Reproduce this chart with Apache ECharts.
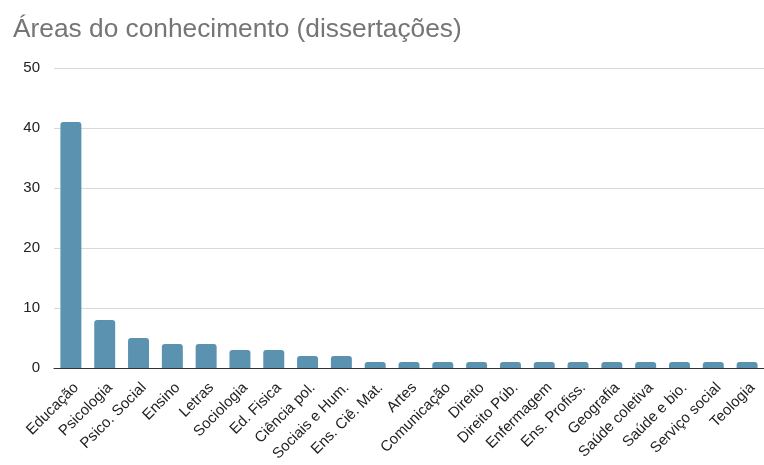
<!DOCTYPE html>
<html>
<head>
<meta charset="utf-8">
<script src="https://cdn.jsdelivr.net/npm/echarts@6/dist/echarts.min.js"></script>
<style>
  html, body { margin: 0; padding: 0; background: #fff; }
  #chart { width: 764px; height: 465px; }
</style>
</head>
<body>
<div id="chart"></div>
<script>
// Number of dissertations per field of knowledge
const categories = [
  'Educação', 'Psicologia', 'Psico. Social', 'Ensino', 'Letras', 'Sociologia',
  'Ed. Fisica', 'Ciência pol.', 'Sociais e Hum.', 'Ens. Ciê. Mat.', 'Artes',
  'Comunicação', 'Direito', 'Direito Púb.', 'Enfermagem', 'Ens. Profiss.',
  'Geografia', 'Saúde coletiva', 'Saúde e bio.', 'Serviço social', 'Teologia'
];
const counts = [41, 8, 5, 4, 4, 3, 3, 2, 2, 1, 1, 1, 1, 1, 1, 1, 1, 1, 1, 1, 1];
const yTicks = [0, 10, 20, 30, 40, 50];

const chart = echarts.init(document.getElementById('chart'));
chart.setOption({
  animation: false,
  backgroundColor: '#ffffff',
  textStyle: { fontFamily: 'Liberation Sans, Arial, sans-serif' },
  title: {
    text: 'Áreas do conhecimento (dissertações)',
    left: 8,
    top: 12,
    textStyle: {
      fontFamily: 'Liberation Sans, Arial, sans-serif',
      fontSize: 26.3,
      fontWeight: 'normal',
      color: '#757575'
    }
  },
  grid: { left: 54, right: 0, top: 68, bottom: 97, containLabel: false },
  xAxis: {
    type: 'category',
    data: categories,
    axisLine: { lineStyle: { color: '#333333', width: 1 } },
    axisTick: { show: false },
    axisLabel: {
      rotate: 45,
      interval: 0,
      margin: 12,
      fontSize: 15,
      color: '#222222',
      verticalAlign: 'top'
    }
  },
  yAxis: {
    type: 'value',
    min: yTicks[0],
    max: yTicks[yTicks.length - 1],
    interval: 10,
    axisLine: { show: false },
    axisTick: { show: false },
    axisLabel: { fontSize: 15, color: '#222222', margin: 14 },
    splitLine: { lineStyle: { color: '#d9d9d9', width: 1 } }
  },
  series: [{
    type: 'bar',
    data: counts,
    barWidth: '62%',
    itemStyle: { color: '#5a92b0', borderRadius: [3, 3, 0, 0] }
  }]
});
</script>
</body>
</html>
